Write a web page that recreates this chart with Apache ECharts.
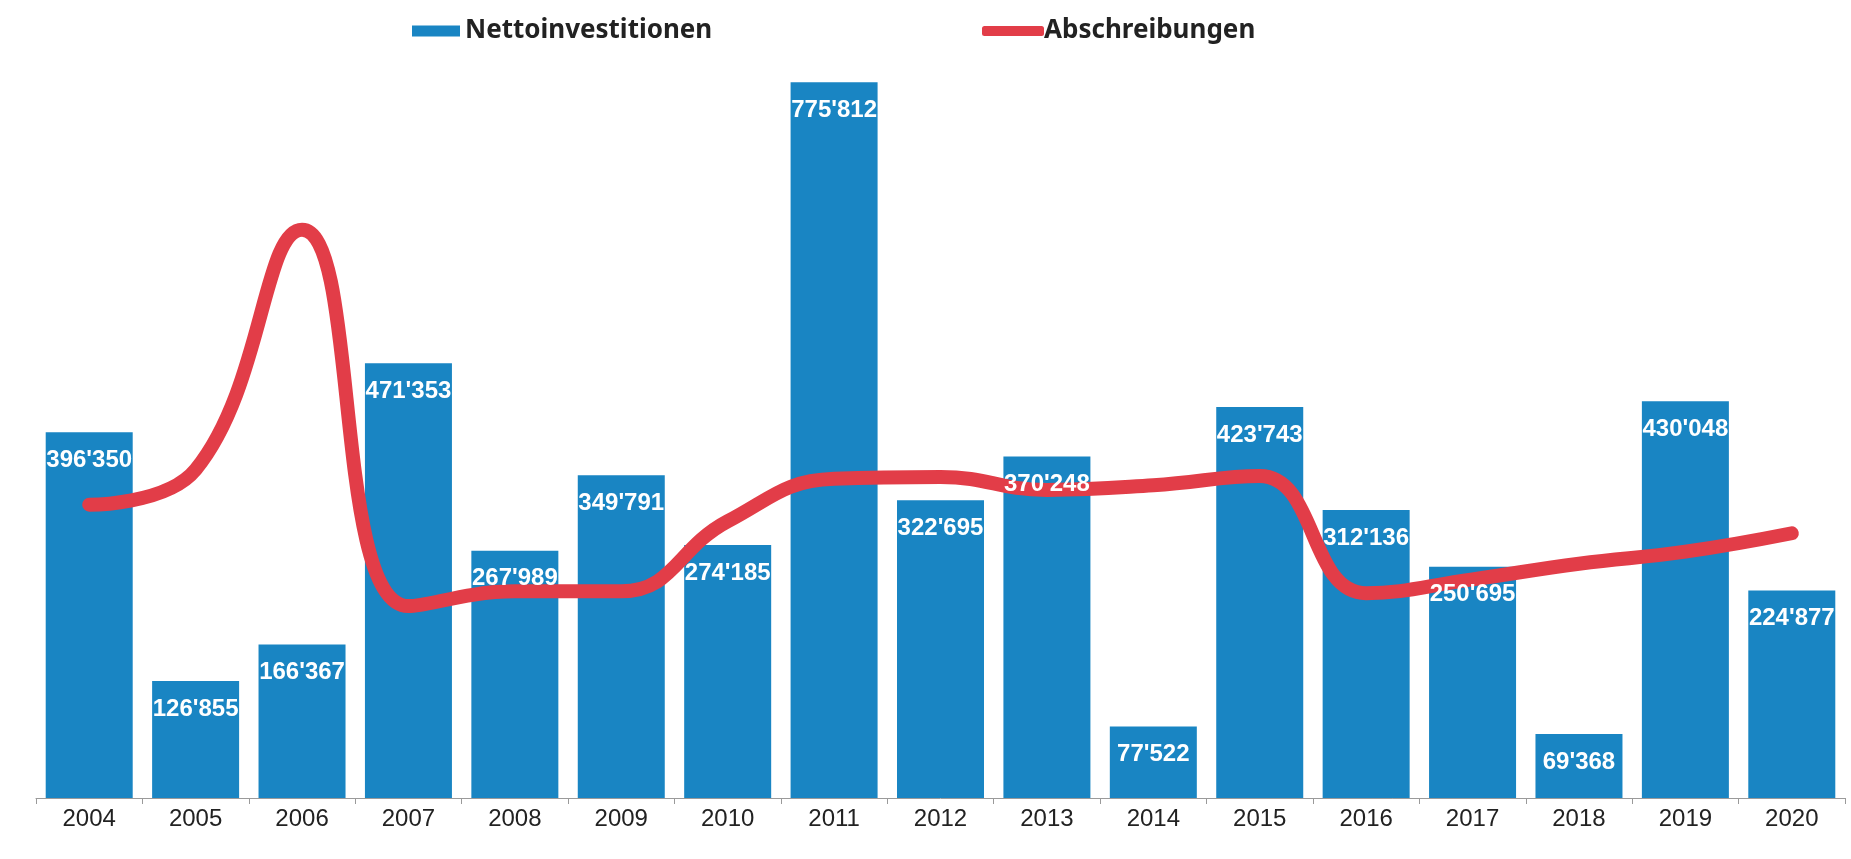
<!DOCTYPE html>
<html>
<head>
<meta charset="utf-8">
<script src="https://cdn.jsdelivr.net/npm/echarts@6/dist/echarts.min.js"></script>
<style>
  html, body { margin: 0; padding: 0; background: #fff; }
  #chart { width: 1851px; height: 859px; }
</style>
</head>
<body>
<div id="chart"></div>
<script>
// Jahre (Kategorien)
const years = ['2004', '2005', '2006', '2007', '2008', '2009', '2010', '2011', '2012',
               '2013', '2014', '2015', '2016', '2017', '2018', '2019', '2020']

// Nettoinvestitionen (Balken, Werte aus den Beschriftungen)
const nettoinvestitionen = [396350, 126855, 166367, 471353, 267989, 349791, 274185, 775812, 322695,
                            370248, 77522, 423743, 312136, 250695, 69368, 430048, 224877]

// Abschreibungen (Linie, aus dem Bild geschätzt)
const abschreibungen = [318000, 356000, 616000, 208000, 224000, 224000, 300000, 346000, 348000,
                        334000, 339000, 349000, 222000, 237000, 254000, 267000, 287000]

const BLUE = '#1985c3'
const RED  = '#e23d48'

const fmt = (v) => String(v).replace(/\B(?=(\d{3})+(?!\d))/g, "'")

const chart = echarts.init(document.getElementById('chart'))

chart.setOption({
  backgroundColor: '#fff',
  animation: false,
  grid: { left: 36, right: 6, top: 60, bottom: 61 },
  legend: [
    {
      data: [{ name: 'Nettoinvestitionen', icon: 'rect' }],
      left: 407, top: 13,
      itemWidth: 48, itemHeight: 11, itemGap: 6,
      textStyle: { fontFamily: 'Noto Sans', fontWeight: 'bold', fontSize: 26, color: '#222' },
    },
    {
      data: [{ name: 'Abschreibungen', icon: 'roundRect', itemStyle: { color: RED } }],
      left: 977, top: 13,
      itemWidth: 62, itemHeight: 10,
      textStyle: { fontFamily: 'Noto Sans', fontWeight: 'bold', fontSize: 26, color: '#222', padding: [0, 0, 0, -5] },
    },
  ],
  xAxis: {
    type: 'category',
    data: years,
    axisLine: { lineStyle: { color: '#9a9a9a', width: 1 } },
    axisTick: { show: true, length: 6, lineStyle: { color: '#9a9a9a' } },
    axisLabel: { color: '#222', fontFamily: 'Liberation Sans', fontSize: 24, margin: 9 },
  },
  yAxis: {
    type: 'value',
    min: 0, max: 800000,
    show: false,
    splitLine: { show: false },
  },
  series: [
    {
      type: 'bar',
      name: 'Nettoinvestitionen',
      data: nettoinvestitionen,
      barWidth: 87,
      itemStyle: { color: BLUE },
      z: 2,
    },
    {
      type: 'line',
      name: 'Abschreibungen',
      data: abschreibungen,
      smooth: 0.45,
      symbol: 'none',
      lineStyle: { color: RED, width: 14, cap: 'round', join: 'round' },
      itemStyle: { color: RED },
      z: 3,
    },
    {
      // label layer above the line
      type: 'bar',
      name: 'labels',
      data: nettoinvestitionen,
      barWidth: 87,
      barGap: '-100%',
      itemStyle: { color: 'transparent' },
      label: {
        show: true,
        position: 'insideTop',
        distance: 16,
        color: '#fff',
        fontFamily: 'Liberation Sans',
        fontWeight: 'bold',
        fontSize: 24,
        formatter: (p) => fmt(p.value),
      },
      silent: true,
      z: 4,
    },
  ],
})
</script>
</body>
</html>
